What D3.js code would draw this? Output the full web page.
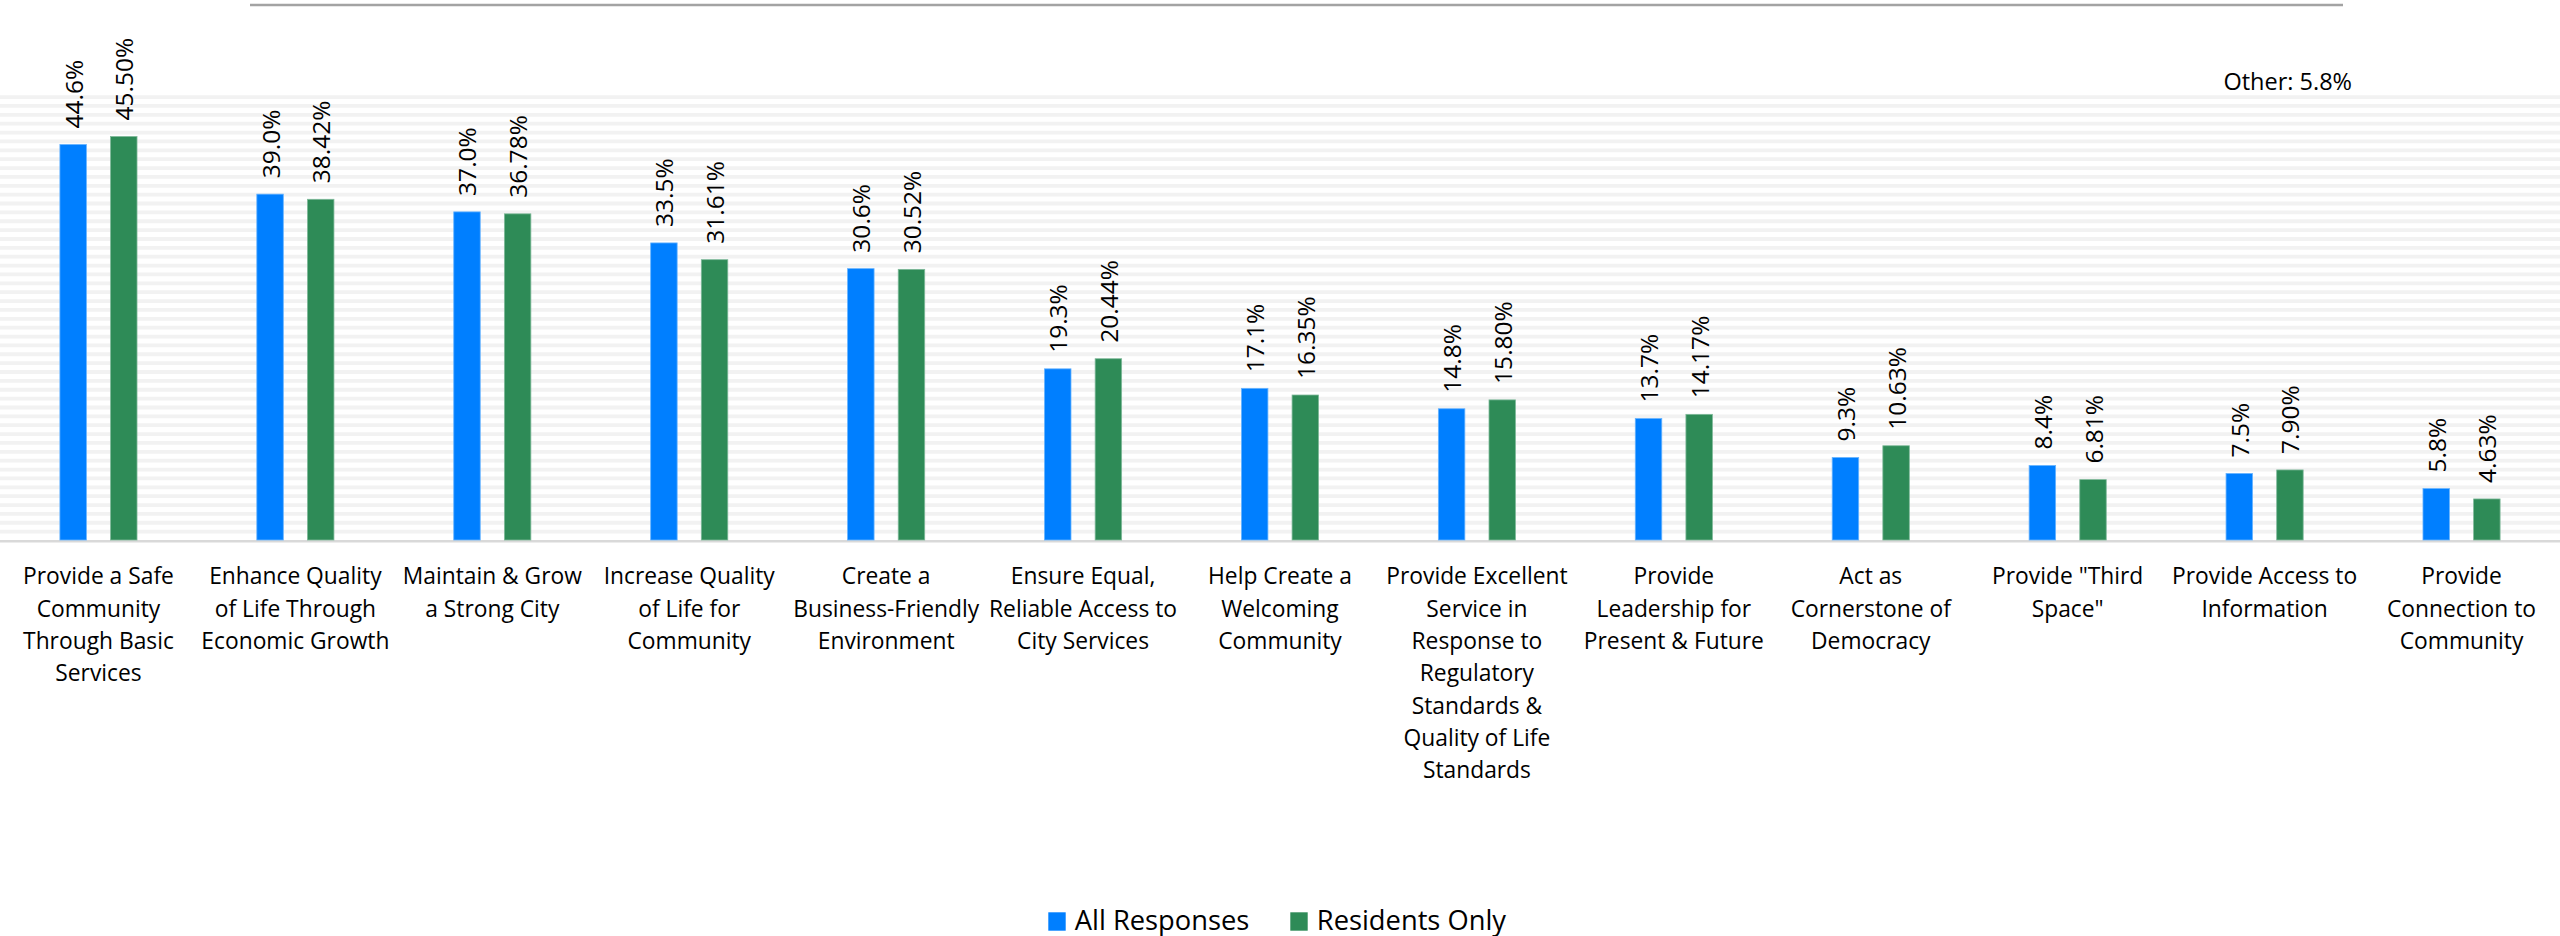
<!DOCTYPE html>
<html>
<head>
<meta charset="utf-8">
<script src="https://cdn.jsdelivr.net/npm/d3@7"></script>
<style>
  html, body { margin: 0; padding: 0; background: #fff; }
  svg { display: block; }
  text { font-family: "Open Sans", "Noto Sans", sans-serif; fill: #000; }
</style>
</head>
<body>
<svg id="chart" width="2560" height="936"></svg>
<script>
// ---- Data ----
const categories = [
  "Provide a Safe Community Through Basic Services",
  "Enhance Quality of Life Through Economic Growth",
  "Maintain & Grow a Strong City",
  "Increase Quality of Life for Community",
  "Create a Business-Friendly Environment",
  "Ensure Equal, Reliable Access to City Services",
  "Help Create a Welcoming Community",
  "Provide Excellent Service in Response to Regulatory Standards & Quality of Life Standards",
  "Provide Leadership for Present & Future",
  "Act as Cornerstone of Democracy",
  "Provide \"Third Space\"",
  "Provide Access to Information",
  "Provide Connection to Community"
];
const categoryLines = [
  ["Provide a Safe", "Community", "Through Basic", "Services"],
  ["Enhance Quality", "of Life Through", "Economic Growth"],
  ["Maintain & Grow", "a Strong City"],
  ["Increase Quality", "of Life for", "Community"],
  ["Create a", "Business-Friendly", "Environment"],
  ["Ensure Equal,", "Reliable Access to", "City Services"],
  ["Help Create a", "Welcoming", "Community"],
  ["Provide Excellent", "Service in", "Response to", "Regulatory", "Standards &", "Quality of Life", "Standards"],
  ["Provide", "Leadership for", "Present & Future"],
  ["Act as", "Cornerstone of", "Democracy"],
  ["Provide \"Third", "Space\""],
  ["Provide Access to", "Information"],
  ["Provide", "Connection to", "Community"]
];
const seriesNames = ["All Responses", "Residents Only"];
const allResponses = [44.6, 39.0, 37.0, 33.5, 30.6, 19.3, 17.1, 14.8, 13.7, 9.3, 8.4, 7.5, 5.8];
const residentsOnly = [45.50, 38.42, 36.78, 31.61, 30.52, 20.44, 16.35, 15.80, 14.17, 10.63, 6.81, 7.90, 4.63];
const seriesDecimals = [1, 2];
const otherNote = "Other: 5.8%";
const gridTicks = d3.range(1, 51);

const colors = { "All Responses": "#007FFF", "Residents Only": "#2E8B57" };
const strokes = { "All Responses": "#66b3ff", "Residents Only": "#7fb99a" };

// ---- Layout ----
const W = 2560, H = 936;
const plotTop = 96.6, plotBottom = 540;
const svg = d3.select("#chart");

const x0 = d3.scaleBand().domain(categories).range([0, W]).paddingInner(0).paddingOuter(0);
const x1 = d3.scaleBand().domain(seriesNames).range([0, x0.bandwidth()])
  .paddingInner(0.477).paddingOuter(1.183);
const y = d3.scaleLinear().domain([0, 50]).range([plotBottom, plotTop]);

const rows = categories.map((c, i) => ({
  cat: c,
  vals: [
    { key: seriesNames[0], v: allResponses[i], dec: seriesDecimals[0] },
    { key: seriesNames[1], v: residentsOnly[i], dec: seriesDecimals[1] }
  ]
}));

// top decorative line
svg.append("line")
  .attr("x1", 250).attr("x2", 2343).attr("y1", 5).attr("y2", 5)
  .attr("stroke", "#a3a3a3").attr("stroke-width", 2.3);

// striped gridlines
const yAxis = d3.axisLeft(y).tickValues(gridTicks).tickSize(-W).tickFormat("");
const gAxis = svg.append("g").attr("transform", "translate(0,0)").call(yAxis);
gAxis.select(".domain").remove();
gAxis.selectAll(".tick line").attr("stroke", "#f2f2f2").attr("stroke-width", 3.8);

// baseline
svg.append("line")
  .attr("x1", 0).attr("x2", W).attr("y1", y(0) + 1.2).attr("y2", y(0) + 1.2)
  .attr("stroke", "#d9d9d9").attr("stroke-width", 2.4);

// bars
const groups = svg.append("g").selectAll("g").data(rows).join("g")
  .attr("transform", d => `translate(${x0(d.cat)},0)`);

groups.selectAll("rect").data(d => d.vals).join("rect")
  .attr("x", d => x1(d.key))
  .attr("y", d => y(d.v))
  .attr("width", x1.bandwidth())
  .attr("height", d => y(0) - y(d.v))
  .attr("fill", d => colors[d.key])
  .attr("stroke", d => strokes[d.key])
  .attr("stroke-width", 0.8);

// value labels (rotated)
groups.selectAll("text.val").data(d => d.vals).join("text")
  .attr("class", "val")
  .attr("transform", d => `translate(${x1(d.key) + x1.bandwidth() / 2},${y(d.v) - 16}) rotate(-90)`)
  .attr("text-anchor", "start")
  .attr("dominant-baseline", "central")
  .style("font-size", "24.5px")
  .text(d => d3.format(`.${d.dec}f`)(d.v) + "%");

// category labels
const catLabels = svg.append("g").selectAll("text").data(rows).join("text")
  .attr("x", d => x0(d.cat) + x0.bandwidth() / 2)
  .attr("y", 584.3)
  .attr("text-anchor", "middle")
  .style("font-size", "22.8px");
catLabels.each(function(d, i) {
  const t = d3.select(this);
  categoryLines[i].forEach((ln, j) => {
    t.append("tspan")
      .attr("x", x0(d.cat) + x0.bandwidth() / 2)
      .attr("dy", j === 0 ? 0 : 32.3)
      .text(ln);
  });
});

// "Other" note
svg.append("text")
  .attr("x", 2352).attr("y", 89.5)
  .attr("text-anchor", "end")
  .style("font-size", "23.5px")
  .text(otherNote);

// legend
const legendItems = [
  { key: seriesNames[0], x: 1048.3 },
  { key: seriesNames[1], x: 1290.3 }
];
const lg = svg.append("g").selectAll("g").data(legendItems).join("g")
  .attr("transform", d => `translate(${d.x},0)`);
lg.append("rect")
  .attr("x", 0).attr("y", 912.3).attr("width", 17.4).attr("height", 18.4)
  .attr("fill", d => colors[d.key]);
lg.append("text")
  .attr("x", 26.5).attr("y", 930)
  .style("font-size", "27.3px")
  .text(d => d.key);
</script>
</body>
</html>
